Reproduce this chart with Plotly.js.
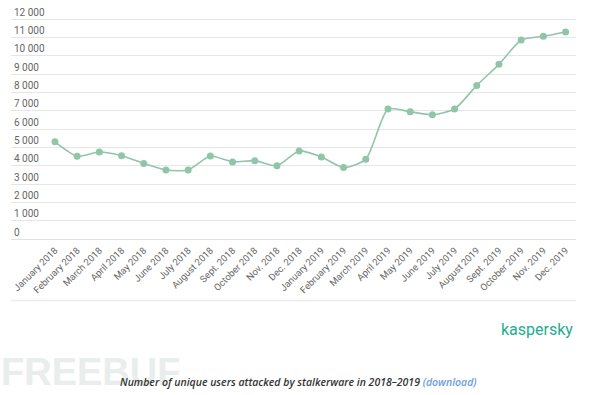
<!DOCTYPE html>
<html>
<head>
<meta charset="utf-8">
<script src="https://cdn.plot.ly/plotly-3.0.1.min.js"></script>
<style>html,body{margin:0;padding:0;background:#fff;}#chart{width:600px;height:395px;}</style>
</head>
<body>
<div id="chart"></div>
<script>
const months = ["January 2018","February 2018","March 2018","April 2018","May 2018","June 2018","July 2018","August 2018","Sept. 2018","October 2018","Nov. 2018","Dec. 2018",
  "January 2019","February 2019","March 2019","April 2019","May 2019","June 2019","July 2019","August 2019","Sept. 2019","October 2019","Nov. 2019","Dec. 2019"];
const users = [5310,4520,4750,4550,4130,3770,3770,4530,4210,4280,4000,4810,
  4480,3900,4350,7100,6950,6790,7100,8390,9540,10870,11070,11310];
const yTicks = [0,1000,2000,3000,4000,5000,6000,7000,8000,9000,10000,11000,12000];
const caption = "Number of unique users attacked by stalkerware in 2018–2019";
const linkText = "(download)";
const brand = "kaspersky";
const watermark = "FREEBUF";

const green = "#91c5a9";
const trace = {
  x: months.map((m,i)=>i), y: users, type: "scatter", mode: "lines+markers",
  line: {color: green, width: 1.6, shape: "spline", smoothing: 0.6},
  marker: {color: green, size: 7},
  hoverinfo: "skip"
};
const layout = {
  width: 600, height: 395,
  margin: {l: 11, r: 24, t: 1, b: 156},
  paper_bgcolor: "#fff", plot_bgcolor: "#fff",
  showlegend: false,
  font: {family: "Roboto, 'Open Sans', sans-serif", color: "#666"},
  xaxis: {
    tickmode: "array", tickvals: months.map((m,i)=>i), ticktext: months,
    range: [-1.98, 23.47], tickangle: -45, showgrid: false, zeroline: false,
    showline: false, ticks: "", ticklabelstandoff: 3, tickfont: {size: 9.5, color: "#666"}
  },
  yaxis: {
    range: [0, 13000], tickmode: "array", tickvals: yTicks,
    ticktext: yTicks.map(v => v === 0 ? "0" : (Math.floor(v/1000) + " 000")),
    ticklabelposition: "inside top", showgrid: true, gridcolor: "#e6e6e6", gridwidth: 1,
    zeroline: true, zerolinecolor: "#e2e2e2", zerolinewidth: 1,
    showline: false, ticks: "", tickfont: {size: 10, color: "#666"}
  },
  shapes: [
    {type: "line", xref: "paper", yref: "paper", x0: 0, x1: 1, y0: -0.258, y1: -0.258,
     line: {color: "#ececec", width: 1.5}}
  ],
  annotations: [
    {text: watermark, xref: "paper", yref: "paper", x: 0.14, y: -0.56,
     xanchor: "center", yanchor: "middle",
     showarrow: false, font: {size: 38, color: "#e9eeec", family: "'Liberation Sans', sans-serif", weight: 700}},
    {text: brand, xref: "paper", yref: "paper", x: 0.931, y: -0.38, xanchor: "center", yanchor: "middle",
     showarrow: false, font: {size: 16, color: "#22ae8e", family: "Roboto, 'Open Sans', sans-serif"}},
    {text: "<i>" + caption + " <span style='color:#6a9ee0'>" + linkText + "</span></i>",
     xref: "paper", yref: "paper", x: 0.508, y: -0.60, xanchor: "center", yanchor: "middle",
     showarrow: false,
     font: {size: 10.5, color: "#333", family: "'Open Sans', sans-serif", weight: 600}}
  ]
};
Plotly.newPlot("chart", [trace], layout, {displayModeBar: false, staticPlot: true});
</script>
</body>
</html>
